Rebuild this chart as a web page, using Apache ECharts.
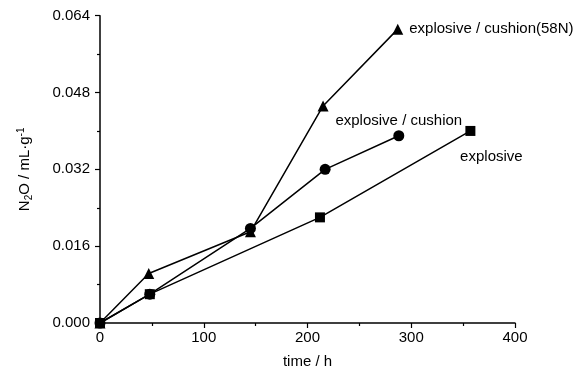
<!DOCTYPE html>
<html><head><meta charset="utf-8">
<script src="https://cdn.jsdelivr.net/npm/echarts@6/dist/echarts.min.js"></script>
<style>html,body{margin:0;padding:0;background:#fff}#c{width:586px;height:374px}</style>
</head><body><div id="c"></div>
<script>
const xTicks = [0, 100, 200, 300, 400];
const yTicks = [0.000, 0.016, 0.032, 0.048, 0.064];
const explosiveX = [0, 48, 212, 357];
const explosiveY = [0, 0.006, 0.022, 0.040];
const cushionX = [0, 48, 145, 217, 288];
const cushionY = [0, 0.006, 0.0197, 0.032, 0.039];
const cushion58X = [0, 47, 145, 215, 287];
const cushion58Y = [0, 0.0103, 0.019, 0.0452, 0.0612];
const seriesNames = ['explosive', 'explosive / cushion', 'explosive / cushion(58N)'];

const font = 'Liberation Sans, Arial, sans-serif';
function pts(xs, ys){ return xs.map((x,i)=>[x, ys[i]]); }
function mk(name, xs, ys, symbol, size, labelPos, offset){
  const d = pts(xs, ys).map((p,i)=>{
    if (i === xs.length-1) return {value:p, label:{show:true, formatter:name, position:labelPos, offset:offset, color:'#000', fontFamily:font, fontSize:15}};
    return {value:p};
  });
  return {type:'line', name:name, data:d, symbol:symbol, symbolSize:size,
    itemStyle:{color:'#000'}, lineStyle:{color:'#000', width:1.5}, z: 3};
}
const chart = echarts.init(document.getElementById('c'), null, {renderer:'canvas'});
chart.setOption({
  animation:false,
  grid:{left:100, right:71, top:15.7, bottom:47.3},
  xAxis:{type:'value', min:xTicks[0], max:xTicks[xTicks.length-1], interval:100,
    name:'time / h', nameLocation:'middle', nameGap:31,
    nameTextStyle:{color:'#000', fontFamily:font, fontSize:15},
    axisLine:{lineStyle:{color:'#000', width:1.5}},
    axisTick:{show:true, inside:false, length:5, lineStyle:{color:'#000', width:1.2}},
    minorTick:{show:true, splitNumber:2, length:3, lineStyle:{color:'#000', width:1.2}},
    splitLine:{show:false},
    axisLabel:{color:'#000', fontFamily:font, fontSize:15, margin:7}},
  yAxis:{type:'value', min:yTicks[0], max:yTicks[yTicks.length-1], interval:0.016,
    name:'{a|N}{s|2}{a|O / mL·g}{p|-1}', nameLocation:'middle', nameGap:66,
    nameTextStyle:{rich:{a:{color:'#000', fontFamily:font, fontSize:15},
      s:{color:'#000', fontFamily:font, fontSize:10, verticalAlign:'bottom', padding:[8,0,0,0]},
      p:{color:'#000', fontFamily:font, fontSize:10, verticalAlign:'top', padding:[0,0,8,0]}}},
    axisLine:{show:true, lineStyle:{color:'#000', width:1.5}},
    axisTick:{show:true, inside:false, length:5, lineStyle:{color:'#000', width:1.2}},
    minorTick:{show:true, splitNumber:2, length:3, lineStyle:{color:'#000', width:1.2}},
    splitLine:{show:false},
    axisLabel:{color:'#000', fontFamily:font, fontSize:15, margin:10,
      formatter:v=>v.toFixed(3)}},
  series:[
    mk(seriesNames[0], explosiveX, explosiveY, 'rect', 10, 'bottom', [21, 8]),
    mk(seriesNames[1], cushionX, cushionY, 'circle', 11, 'top', [0, 3]),
    mk(seriesNames[2], cushion58X, cushion58Y, 'triangle', 11, 'right', [1, 0])
  ]
});
</script></body></html>
